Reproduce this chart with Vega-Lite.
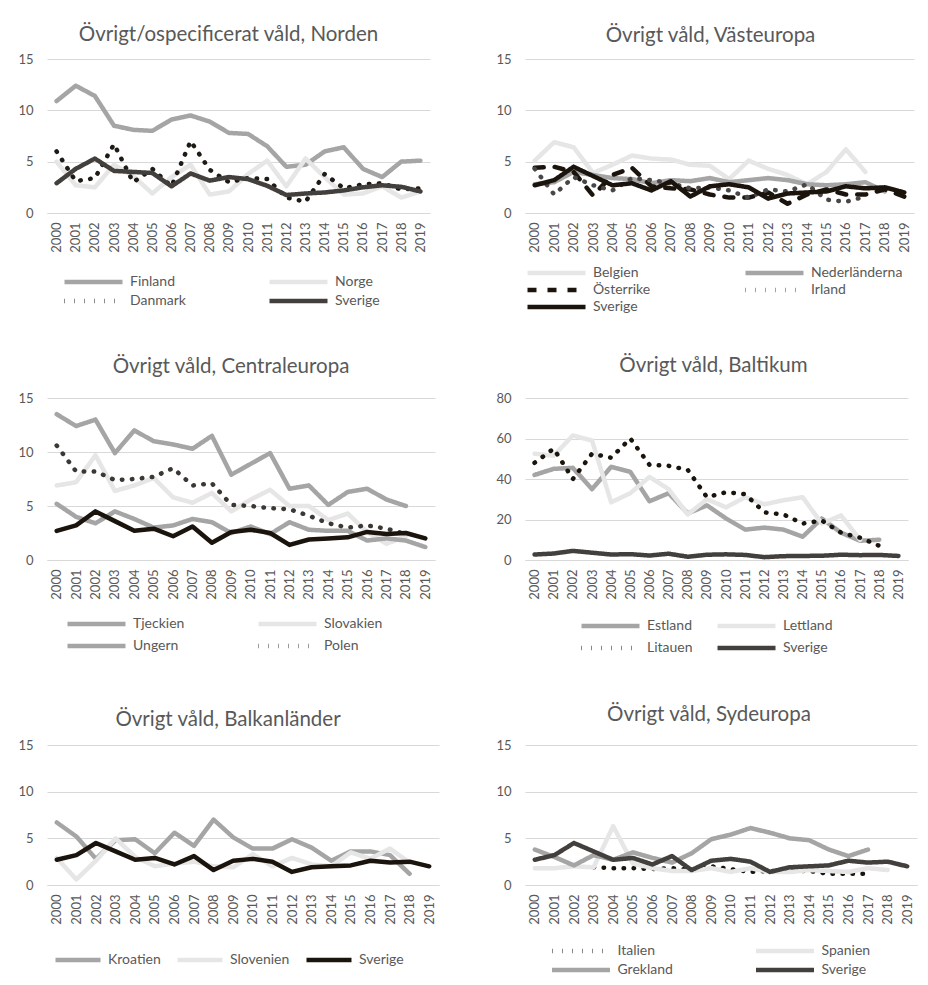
{
"$schema": "https://vega.github.io/schema/vega-lite/v6.json",
"background": "white",
"padding": {"left": 17, "top": 24, "right": 5, "bottom": 0},
"columns": 2,
"bounds": "flush",
"align": "each",
"spacing": {"row": 185, "column": 86},
"resolve": {"scale": {"color": "independent", "strokeDash": "independent"}, "legend": {"color": "independent", "strokeDash": "independent"}},
"config": {
  "font": "Lato",
  "view": {"stroke": null},
  "axis": {"labelColor": "#595959", "labelFontSize": 13, "gridColor": "#d9d9d9", "domainColor": "#d9d9d9", "ticks": false, "title": null},
  "axisY": {"domain": false, "labelPadding": 14, "minExtent": 30},
  "axisX": {"grid": false, "labelAngle": -90, "labelPadding": 9},
  "title": {"fontSize": 20.5, "fontWeight": "normal", "color": "#595959", "anchor": "middle"},
  "legend": {"orient": "none", "direction": "horizontal", "symbolType": "stroke", "symbolStrokeWidth": 4.5, "clipHeight": 17, "labelFontSize": 14, "labelColor": "#595959", "labelOffset": 5, "symbolSize": 3364, "title": null},
  "line": {"strokeWidth": 4.5, "strokeCap": "round", "strokeJoin": "round"}
},
"datasets": {
"nord": [
{"s":"Finland","t":"2000","v":10.9},{"s":"Finland","t":"2001","v":12.4},{"s":"Finland","t":"2002","v":11.4},{"s":"Finland","t":"2003","v":8.5},{"s":"Finland","t":"2004","v":8.1},{"s":"Finland","t":"2005","v":8.0},{"s":"Finland","t":"2006","v":9.1},{"s":"Finland","t":"2007","v":9.5},{"s":"Finland","t":"2008","v":8.9},{"s":"Finland","t":"2009","v":7.8},{"s":"Finland","t":"2010","v":7.7},{"s":"Finland","t":"2011","v":6.5},{"s":"Finland","t":"2012","v":4.5},{"s":"Finland","t":"2013","v":4.7},{"s":"Finland","t":"2014","v":6.0},{"s":"Finland","t":"2015","v":6.4},{"s":"Finland","t":"2016","v":4.3},{"s":"Finland","t":"2017","v":3.5},{"s":"Finland","t":"2018","v":5.0},{"s":"Finland","t":"2019","v":5.1},
{"s":"Norge","t":"2000","v":5.0},{"s":"Norge","t":"2001","v":2.7},{"s":"Norge","t":"2002","v":2.5},{"s":"Norge","t":"2003","v":4.7},{"s":"Norge","t":"2004","v":3.6},{"s":"Norge","t":"2005","v":1.9},{"s":"Norge","t":"2006","v":3.5},{"s":"Norge","t":"2007","v":4.7},{"s":"Norge","t":"2008","v":1.8},{"s":"Norge","t":"2009","v":2.1},{"s":"Norge","t":"2010","v":3.8},{"s":"Norge","t":"2011","v":5.1},{"s":"Norge","t":"2012","v":2.6},{"s":"Norge","t":"2013","v":5.3},{"s":"Norge","t":"2014","v":3.5},{"s":"Norge","t":"2015","v":1.8},{"s":"Norge","t":"2016","v":1.9},{"s":"Norge","t":"2017","v":2.6},{"s":"Norge","t":"2018","v":1.5},{"s":"Norge","t":"2019","v":2.1},
{"s":"Danmark","t":"2000","v":6.0},{"s":"Danmark","t":"2001","v":3.1},{"s":"Danmark","t":"2002","v":3.4},{"s":"Danmark","t":"2003","v":6.7},{"s":"Danmark","t":"2004","v":3.0},{"s":"Danmark","t":"2005","v":4.3},{"s":"Danmark","t":"2006","v":2.6},{"s":"Danmark","t":"2007","v":7.0},{"s":"Danmark","t":"2008","v":4.2},{"s":"Danmark","t":"2009","v":3.0},{"s":"Danmark","t":"2010","v":3.4},{"s":"Danmark","t":"2011","v":3.3},{"s":"Danmark","t":"2012","v":1.5},{"s":"Danmark","t":"2013","v":1.1},{"s":"Danmark","t":"2014","v":3.8},{"s":"Danmark","t":"2015","v":2.4},{"s":"Danmark","t":"2016","v":2.8},{"s":"Danmark","t":"2017","v":2.9},{"s":"Danmark","t":"2018","v":2.3},{"s":"Danmark","t":"2019","v":2.4},
{"s":"Sverige","t":"2000","v":2.9},{"s":"Sverige","t":"2001","v":4.3},{"s":"Sverige","t":"2002","v":5.3},{"s":"Sverige","t":"2003","v":4.1},{"s":"Sverige","t":"2004","v":4.0},{"s":"Sverige","t":"2005","v":3.9},{"s":"Sverige","t":"2006","v":2.6},{"s":"Sverige","t":"2007","v":3.85},{"s":"Sverige","t":"2008","v":3.15},{"s":"Sverige","t":"2009","v":3.5},{"s":"Sverige","t":"2010","v":3.3},{"s":"Sverige","t":"2011","v":2.65},{"s":"Sverige","t":"2012","v":1.75},{"s":"Sverige","t":"2013","v":1.9},{"s":"Sverige","t":"2014","v":2.0},{"s":"Sverige","t":"2015","v":2.2},{"s":"Sverige","t":"2016","v":2.5},{"s":"Sverige","t":"2017","v":2.7},{"s":"Sverige","t":"2018","v":2.55},{"s":"Sverige","t":"2019","v":2.1}
],
"vast": [
{"s":"Belgien","t":"2000","v":5.1},{"s":"Belgien","t":"2001","v":6.9},{"s":"Belgien","t":"2002","v":6.4},{"s":"Belgien","t":"2003","v":3.9},{"s":"Belgien","t":"2004","v":4.7},{"s":"Belgien","t":"2005","v":5.6},{"s":"Belgien","t":"2006","v":5.3},{"s":"Belgien","t":"2007","v":5.2},{"s":"Belgien","t":"2008","v":4.7},{"s":"Belgien","t":"2009","v":4.6},{"s":"Belgien","t":"2010","v":3.3},{"s":"Belgien","t":"2011","v":5.1},{"s":"Belgien","t":"2012","v":4.3},{"s":"Belgien","t":"2013","v":3.7},{"s":"Belgien","t":"2014","v":2.8},{"s":"Belgien","t":"2015","v":4.0},{"s":"Belgien","t":"2016","v":6.2},{"s":"Belgien","t":"2017","v":4.0},
{"s":"Nederländerna","t":"2000","v":2.8},{"s":"Nederländerna","t":"2001","v":3.0},{"s":"Nederländerna","t":"2002","v":4.0},{"s":"Nederländerna","t":"2003","v":3.7},{"s":"Nederländerna","t":"2004","v":3.4},{"s":"Nederländerna","t":"2005","v":3.3},{"s":"Nederländerna","t":"2006","v":2.9},{"s":"Nederländerna","t":"2007","v":3.2},{"s":"Nederländerna","t":"2008","v":3.1},{"s":"Nederländerna","t":"2009","v":3.4},{"s":"Nederländerna","t":"2010","v":3.0},{"s":"Nederländerna","t":"2011","v":3.2},{"s":"Nederländerna","t":"2012","v":3.4},{"s":"Nederländerna","t":"2013","v":3.2},{"s":"Nederländerna","t":"2014","v":2.8},{"s":"Nederländerna","t":"2015","v":2.7},{"s":"Nederländerna","t":"2016","v":2.8},{"s":"Nederländerna","t":"2017","v":3.0},{"s":"Nederländerna","t":"2018","v":2.1},
{"s":"Österrike","t":"2000","v":4.4},{"s":"Österrike","t":"2001","v":4.5},{"s":"Österrike","t":"2002","v":4.0},{"s":"Österrike","t":"2003","v":1.7},{"s":"Österrike","t":"2004","v":3.7},{"s":"Österrike","t":"2005","v":4.4},{"s":"Österrike","t":"2006","v":2.6},{"s":"Österrike","t":"2007","v":2.4},{"s":"Österrike","t":"2008","v":2.3},{"s":"Österrike","t":"2009","v":1.8},{"s":"Österrike","t":"2010","v":1.5},{"s":"Österrike","t":"2011","v":1.5},{"s":"Österrike","t":"2012","v":2.0},{"s":"Österrike","t":"2013","v":0.9},{"s":"Österrike","t":"2014","v":1.8},{"s":"Österrike","t":"2015","v":2.3},{"s":"Österrike","t":"2016","v":1.8},{"s":"Österrike","t":"2017","v":1.8},{"s":"Österrike","t":"2018","v":2.3},{"s":"Österrike","t":"2019","v":1.6},
{"s":"Irland","t":"2000","v":4.3},{"s":"Irland","t":"2001","v":1.8},{"s":"Irland","t":"2002","v":3.5},{"s":"Irland","t":"2003","v":2.7},{"s":"Irland","t":"2004","v":2.2},{"s":"Irland","t":"2005","v":3.4},{"s":"Irland","t":"2006","v":3.2},{"s":"Irland","t":"2007","v":2.9},{"s":"Irland","t":"2008","v":2.4},{"s":"Irland","t":"2009","v":2.5},{"s":"Irland","t":"2010","v":2.2},{"s":"Irland","t":"2011","v":1.5},{"s":"Irland","t":"2012","v":2.3},{"s":"Irland","t":"2013","v":2.1},{"s":"Irland","t":"2014","v":2.8},{"s":"Irland","t":"2015","v":1.3},{"s":"Irland","t":"2016","v":1.1},{"s":"Irland","t":"2017","v":1.6}
],
"cent": [
{"s":"Tjeckien","t":"2000","v":13.5},{"s":"Tjeckien","t":"2001","v":12.4},{"s":"Tjeckien","t":"2002","v":13.0},{"s":"Tjeckien","t":"2003","v":9.9},{"s":"Tjeckien","t":"2004","v":12.0},{"s":"Tjeckien","t":"2005","v":11.0},{"s":"Tjeckien","t":"2006","v":10.7},{"s":"Tjeckien","t":"2007","v":10.3},{"s":"Tjeckien","t":"2008","v":11.5},{"s":"Tjeckien","t":"2009","v":7.9},{"s":"Tjeckien","t":"2010","v":8.9},{"s":"Tjeckien","t":"2011","v":9.9},{"s":"Tjeckien","t":"2012","v":6.6},{"s":"Tjeckien","t":"2013","v":6.9},{"s":"Tjeckien","t":"2014","v":5.1},{"s":"Tjeckien","t":"2015","v":6.3},{"s":"Tjeckien","t":"2016","v":6.6},{"s":"Tjeckien","t":"2017","v":5.6},{"s":"Tjeckien","t":"2018","v":5.0},
{"s":"Slovakien","t":"2000","v":6.9},{"s":"Slovakien","t":"2001","v":7.2},{"s":"Slovakien","t":"2002","v":9.7},{"s":"Slovakien","t":"2003","v":6.4},{"s":"Slovakien","t":"2004","v":6.9},{"s":"Slovakien","t":"2005","v":7.6},{"s":"Slovakien","t":"2006","v":5.8},{"s":"Slovakien","t":"2007","v":5.3},{"s":"Slovakien","t":"2008","v":6.2},{"s":"Slovakien","t":"2009","v":4.5},{"s":"Slovakien","t":"2010","v":5.6},{"s":"Slovakien","t":"2011","v":6.5},{"s":"Slovakien","t":"2012","v":5.0},{"s":"Slovakien","t":"2013","v":5.0},{"s":"Slovakien","t":"2014","v":3.7},{"s":"Slovakien","t":"2015","v":4.3},{"s":"Slovakien","t":"2016","v":2.6},{"s":"Slovakien","t":"2017","v":1.5},{"s":"Slovakien","t":"2018","v":2.2},
{"s":"Ungern","t":"2000","v":5.2},{"s":"Ungern","t":"2001","v":4.0},{"s":"Ungern","t":"2002","v":3.4},{"s":"Ungern","t":"2003","v":4.5},{"s":"Ungern","t":"2004","v":3.8},{"s":"Ungern","t":"2005","v":3.0},{"s":"Ungern","t":"2006","v":3.2},{"s":"Ungern","t":"2007","v":3.8},{"s":"Ungern","t":"2008","v":3.5},{"s":"Ungern","t":"2009","v":2.5},{"s":"Ungern","t":"2010","v":3.1},{"s":"Ungern","t":"2011","v":2.4},{"s":"Ungern","t":"2012","v":3.5},{"s":"Ungern","t":"2013","v":2.8},{"s":"Ungern","t":"2014","v":2.7},{"s":"Ungern","t":"2015","v":2.7},{"s":"Ungern","t":"2016","v":1.8},{"s":"Ungern","t":"2017","v":2.0},{"s":"Ungern","t":"2018","v":1.8},{"s":"Ungern","t":"2019","v":1.2},
{"s":"Polen","t":"2000","v":10.6},{"s":"Polen","t":"2001","v":8.2},{"s":"Polen","t":"2002","v":8.2},{"s":"Polen","t":"2003","v":7.4},{"s":"Polen","t":"2004","v":7.5},{"s":"Polen","t":"2005","v":7.7},{"s":"Polen","t":"2006","v":8.5},{"s":"Polen","t":"2007","v":6.9},{"s":"Polen","t":"2008","v":7.1},{"s":"Polen","t":"2009","v":5.1},{"s":"Polen","t":"2010","v":5.0},{"s":"Polen","t":"2011","v":4.8},{"s":"Polen","t":"2012","v":4.7},{"s":"Polen","t":"2013","v":4.1},{"s":"Polen","t":"2014","v":3.4},{"s":"Polen","t":"2015","v":3.0},{"s":"Polen","t":"2016","v":3.2},{"s":"Polen","t":"2017","v":2.9},{"s":"Polen","t":"2018","v":2.4}
],
"balt": [
{"s":"Estland","t":"2000","v":42},{"s":"Estland","t":"2001","v":45},{"s":"Estland","t":"2002","v":45.5},{"s":"Estland","t":"2003","v":35},{"s":"Estland","t":"2004","v":46},{"s":"Estland","t":"2005","v":43.5},{"s":"Estland","t":"2006","v":29},{"s":"Estland","t":"2007","v":33},{"s":"Estland","t":"2008","v":23},{"s":"Estland","t":"2009","v":27},{"s":"Estland","t":"2010","v":20.5},{"s":"Estland","t":"2011","v":15},{"s":"Estland","t":"2012","v":16},{"s":"Estland","t":"2013","v":15},{"s":"Estland","t":"2014","v":11.5},{"s":"Estland","t":"2015","v":20.5},{"s":"Estland","t":"2016","v":13.5},{"s":"Estland","t":"2017","v":9.5},{"s":"Estland","t":"2018","v":10},
{"s":"Lettland","t":"2000","v":52.5},{"s":"Lettland","t":"2001","v":51.5},{"s":"Lettland","t":"2002","v":61.5},{"s":"Lettland","t":"2003","v":59},{"s":"Lettland","t":"2004","v":28.5},{"s":"Lettland","t":"2005","v":33},{"s":"Lettland","t":"2006","v":41},{"s":"Lettland","t":"2007","v":35},{"s":"Lettland","t":"2008","v":22.5},{"s":"Lettland","t":"2009","v":30},{"s":"Lettland","t":"2010","v":26},{"s":"Lettland","t":"2011","v":31},{"s":"Lettland","t":"2012","v":27.5},{"s":"Lettland","t":"2013","v":29.5},{"s":"Lettland","t":"2014","v":31},{"s":"Lettland","t":"2015","v":18},{"s":"Lettland","t":"2016","v":22},{"s":"Lettland","t":"2017","v":10},
{"s":"Litauen","t":"2000","v":48},{"s":"Litauen","t":"2001","v":55},{"s":"Litauen","t":"2002","v":40},{"s":"Litauen","t":"2003","v":52.5},{"s":"Litauen","t":"2004","v":50.5},{"s":"Litauen","t":"2005","v":60},{"s":"Litauen","t":"2006","v":47},{"s":"Litauen","t":"2007","v":46.5},{"s":"Litauen","t":"2008","v":44.5},{"s":"Litauen","t":"2009","v":31},{"s":"Litauen","t":"2010","v":33.5},{"s":"Litauen","t":"2011","v":32.5},{"s":"Litauen","t":"2012","v":23.5},{"s":"Litauen","t":"2013","v":22.5},{"s":"Litauen","t":"2014","v":18},{"s":"Litauen","t":"2015","v":19.5},{"s":"Litauen","t":"2016","v":13.5},{"s":"Litauen","t":"2017","v":11},{"s":"Litauen","t":"2018","v":7}
],
"balk": [
{"s":"Kroatien","t":"2000","v":6.7},{"s":"Kroatien","t":"2001","v":5.2},{"s":"Kroatien","t":"2002","v":2.8},{"s":"Kroatien","t":"2003","v":4.8},{"s":"Kroatien","t":"2004","v":4.9},{"s":"Kroatien","t":"2005","v":3.4},{"s":"Kroatien","t":"2006","v":5.6},{"s":"Kroatien","t":"2007","v":4.2},{"s":"Kroatien","t":"2008","v":7.0},{"s":"Kroatien","t":"2009","v":5.1},{"s":"Kroatien","t":"2010","v":3.9},{"s":"Kroatien","t":"2011","v":3.9},{"s":"Kroatien","t":"2012","v":4.9},{"s":"Kroatien","t":"2013","v":4.0},{"s":"Kroatien","t":"2014","v":2.6},{"s":"Kroatien","t":"2015","v":3.6},{"s":"Kroatien","t":"2016","v":3.6},{"s":"Kroatien","t":"2017","v":3.2},{"s":"Kroatien","t":"2018","v":1.2},
{"s":"Slovenien","t":"2000","v":2.9},{"s":"Slovenien","t":"2001","v":0.6},{"s":"Slovenien","t":"2002","v":2.6},{"s":"Slovenien","t":"2003","v":5.0},{"s":"Slovenien","t":"2004","v":3.0},{"s":"Slovenien","t":"2005","v":2.0},{"s":"Slovenien","t":"2006","v":2.3},{"s":"Slovenien","t":"2007","v":2.5},{"s":"Slovenien","t":"2008","v":2.0},{"s":"Slovenien","t":"2009","v":1.9},{"s":"Slovenien","t":"2010","v":3.3},{"s":"Slovenien","t":"2011","v":2.0},{"s":"Slovenien","t":"2012","v":2.9},{"s":"Slovenien","t":"2013","v":2.2},{"s":"Slovenien","t":"2014","v":2.0},{"s":"Slovenien","t":"2015","v":3.5},{"s":"Slovenien","t":"2016","v":2.8},{"s":"Slovenien","t":"2017","v":3.9},{"s":"Slovenien","t":"2018","v":2.4}
],
"syd": [
{"s":"Italien","t":"2003","v":1.9},{"s":"Italien","t":"2004","v":1.8},{"s":"Italien","t":"2005","v":1.8},{"s":"Italien","t":"2006","v":1.7},{"s":"Italien","t":"2007","v":1.8},{"s":"Italien","t":"2008","v":1.6},{"s":"Italien","t":"2009","v":2.0},{"s":"Italien","t":"2010","v":1.7},{"s":"Italien","t":"2011","v":1.4},{"s":"Italien","t":"2012","v":1.5},{"s":"Italien","t":"2013","v":1.5},{"s":"Italien","t":"2014","v":1.5},{"s":"Italien","t":"2015","v":1.2},{"s":"Italien","t":"2016","v":1.2},{"s":"Italien","t":"2017","v":1.2},
{"s":"Spanien","t":"2000","v":1.8},{"s":"Spanien","t":"2001","v":1.8},{"s":"Spanien","t":"2002","v":2.0},{"s":"Spanien","t":"2003","v":1.9},{"s":"Spanien","t":"2004","v":6.3},{"s":"Spanien","t":"2005","v":2.3},{"s":"Spanien","t":"2006","v":1.8},{"s":"Spanien","t":"2007","v":1.5},{"s":"Spanien","t":"2008","v":1.5},{"s":"Spanien","t":"2009","v":1.8},{"s":"Spanien","t":"2010","v":1.4},{"s":"Spanien","t":"2011","v":1.8},{"s":"Spanien","t":"2012","v":1.4},{"s":"Spanien","t":"2013","v":1.4},{"s":"Spanien","t":"2014","v":1.6},{"s":"Spanien","t":"2015","v":1.5},{"s":"Spanien","t":"2016","v":1.4},{"s":"Spanien","t":"2017","v":1.8},{"s":"Spanien","t":"2018","v":1.6},
{"s":"Grekland","t":"2000","v":3.8},{"s":"Grekland","t":"2001","v":3.0},{"s":"Grekland","t":"2002","v":2.1},{"s":"Grekland","t":"2003","v":3.2},{"s":"Grekland","t":"2004","v":2.7},{"s":"Grekland","t":"2005","v":3.5},{"s":"Grekland","t":"2006","v":2.9},{"s":"Grekland","t":"2007","v":2.4},{"s":"Grekland","t":"2008","v":3.4},{"s":"Grekland","t":"2009","v":4.9},{"s":"Grekland","t":"2010","v":5.4},{"s":"Grekland","t":"2011","v":6.1},{"s":"Grekland","t":"2012","v":5.6},{"s":"Grekland","t":"2013","v":5.0},{"s":"Grekland","t":"2014","v":4.8},{"s":"Grekland","t":"2015","v":3.8},{"s":"Grekland","t":"2016","v":3.1},{"s":"Grekland","t":"2017","v":3.8}
],
"sve": [
{"s":"Sverige","t":"2000","v":2.7},{"s":"Sverige","t":"2001","v":3.2},{"s":"Sverige","t":"2002","v":4.5},{"s":"Sverige","t":"2003","v":3.6},{"s":"Sverige","t":"2004","v":2.7},{"s":"Sverige","t":"2005","v":2.9},{"s":"Sverige","t":"2006","v":2.2},{"s":"Sverige","t":"2007","v":3.1},{"s":"Sverige","t":"2008","v":1.6},{"s":"Sverige","t":"2009","v":2.6},{"s":"Sverige","t":"2010","v":2.8},{"s":"Sverige","t":"2011","v":2.5},{"s":"Sverige","t":"2012","v":1.4},{"s":"Sverige","t":"2013","v":1.9},{"s":"Sverige","t":"2014","v":2.0},{"s":"Sverige","t":"2015","v":2.1},{"s":"Sverige","t":"2016","v":2.6},{"s":"Sverige","t":"2017","v":2.4},{"s":"Sverige","t":"2018","v":2.5},{"s":"Sverige","t":"2019","v":2.0}
]
},
"concat": [
 {"title": {"text": "Övrigt/ospecificerat våld, Norden", "offset": 8, "dx": -10},
  "width": 383, "height": 154,
  "data": {"name": "nord"},
  "mark": {"type": "line"},
  "encoding": {
   "x": {"field": "t", "type": "ordinal"},
   "y": {"field": "v", "type": "quantitative", "scale": {"domain": [0, 15], "nice": false}, "axis": {"values": [0, 5, 10, 15]}},
   "color": {"field": "s", "type": "nominal", "scale": {"domain": ["Finland", "Norge", "Danmark", "Sverige"], "range": ["#a5a5a5", "#e7e6e6", "#1e1a16", "#433f3c"]}, "legend": {"legendX": 15, "legendY": 214.5, "columns": 2, "columnPadding": 81, "rowPadding": 2, "encode": {"symbols": {"strokeDash": {"condition": {"test": "datum.value === 'Danmark'", "value": [4.5, 5.5]}, "value": [1, 0]}}}}},
   "strokeDash": {"field": "s", "type": "nominal", "scale": {"domain": ["Finland", "Norge", "Danmark", "Sverige"], "range": [[1, 0], [1, 0], [0.5, 9.5], [1, 0]]}, "legend": null}
  }
 },
 {"title": {"text": "Övrigt våld, Västeuropa", "offset": 7, "dx": -9},
  "width": 389, "height": 154,
  "layer": [
   {"data": {"name": "vast"}, "mark": {"type": "line"},
    "encoding": {
     "x": {"field": "t", "type": "ordinal"},
     "y": {"field": "v", "type": "quantitative", "scale": {"domain": [0, 15], "nice": false}, "axis": {"values": [0, 5, 10, 15]}},
     "color": {"field": "s", "type": "nominal", "scale": {"domain": ["Belgien", "Nederländerna", "Österrike", "Irland", "Sverige"], "range": ["#e7e6e6", "#a5a5a5", "#1b140d", "#4a4645", "#1b140d"]}, "legend": {"legendX": 0, "legendY": 205.5, "columns": 2, "columnPadding": 92, "rowPadding": 0, "encode": {"symbols": {"strokeDash": {"condition": [{"test": "datum.value === 'Österrike'", "value": [15, 6]}, {"test": "datum.value === 'Irland'", "value": [4.5, 5.5]}], "value": [1, 0]}}}}},
     "strokeDash": {"field": "s", "type": "nominal", "scale": {"domain": ["Belgien", "Nederländerna", "Österrike", "Irland", "Sverige"], "range": [[1, 0], [1, 0], [9, 11], [0.5, 9.5], [1, 0]]}, "legend": null}
    }},
   {"data": {"name": "sve"}, "mark": {"type": "line"},
    "encoding": {
     "x": {"field": "t", "type": "ordinal"},
     "y": {"field": "v", "type": "quantitative", "scale": {"domain": [0, 15], "nice": false}},
     "color": {"field": "s", "type": "nominal"},
     "strokeDash": {"field": "s", "type": "nominal", "legend": null}
    }}
  ]
 },
 {"title": {"text": "Övrigt våld, Centraleuropa", "offset": 15, "dx": -10},
  "width": 388, "height": 162,
  "layer": [
   {"data": {"name": "cent"}, "mark": {"type": "line"},
    "encoding": {
     "x": {"field": "t", "type": "ordinal"},
     "y": {"field": "v", "type": "quantitative", "scale": {"domain": [0, 15], "nice": false}, "axis": {"values": [0, 5, 10, 15]}},
     "color": {"field": "s", "type": "nominal", "scale": {"domain": ["Tjeckien", "Slovakien", "Ungern", "Polen"], "range": ["#a5a5a5", "#e7e6e6", "#a5a5a5", "#3b3733"]}, "legend": {"legendX": 18, "legendY": 217.5, "columns": 2, "columnPadding": 71, "rowPadding": 5, "encode": {"symbols": {"strokeDash": {"condition": {"test": "datum.value === 'Polen'", "value": [4.5, 5.5]}, "value": [1, 0]}}}}},
     "strokeDash": {"field": "s", "type": "nominal", "scale": {"domain": ["Tjeckien", "Slovakien", "Ungern", "Polen"], "range": [[1, 0], [1, 0], [1, 0], [0.5, 9.5]]}, "legend": null}
    }},
   {"data": {"name": "sve"}, "mark": {"type": "line", "color": "#1b140d"},
    "encoding": {
     "x": {"field": "t", "type": "ordinal"},
     "y": {"field": "v", "type": "quantitative", "scale": {"domain": [0, 15], "nice": false}}
    }}
  ]
 },
 {"title": {"text": "Övrigt våld, Baltikum", "offset": 16, "dx": -3},
  "width": 383, "height": 162,
  "layer": [
   {"data": {"name": "balt"}, "mark": {"type": "line"},
    "encoding": {
     "x": {"field": "t", "type": "ordinal"},
     "y": {"field": "v", "type": "quantitative", "scale": {"domain": [0, 80], "nice": false}, "axis": {"values": [0, 20, 40, 60, 80]}},
     "color": {"field": "s", "type": "nominal", "scale": {"domain": ["Estland", "Lettland", "Litauen", "Sverige"], "range": ["#a5a5a5", "#e7e6e6", "#1b140d", "#433f3c"]}, "legend": {"legendX": 54, "legendY": 219.5, "columns": 2, "columnPadding": 22, "rowPadding": 5, "encode": {"symbols": {"strokeDash": {"condition": {"test": "datum.value === 'Litauen'", "value": [4.5, 5.5]}, "value": [1, 0]}}}}},
     "strokeDash": {"field": "s", "type": "nominal", "scale": {"domain": ["Estland", "Lettland", "Litauen", "Sverige"], "range": [[1, 0], [1, 0], [0.5, 9.5], [1, 0]]}, "legend": null}
    }},
   {"data": {"name": "sve"}, "mark": {"type": "line"},
    "encoding": {
     "x": {"field": "t", "type": "ordinal"},
     "y": {"field": "v", "type": "quantitative", "scale": {"domain": [0, 80], "nice": false}},
     "color": {"field": "s", "type": "nominal"},
     "strokeDash": {"field": "s", "type": "nominal", "legend": null}
    }}
  ]
 },
 {"title": {"text": "Övrigt våld, Balkanländer", "offset": 9, "dx": -15},
  "width": 392, "height": 140,
  "layer": [
   {"data": {"name": "balk"}, "mark": {"type": "line"},
    "encoding": {
     "x": {"field": "t", "type": "ordinal"},
     "y": {"field": "v", "type": "quantitative", "scale": {"domain": [0, 15], "nice": false}, "axis": {"values": [0, 5, 10, 15]}},
     "color": {"field": "s", "type": "nominal", "scale": {"domain": ["Kroatien", "Slovenien", "Sverige"], "range": ["#a5a5a5", "#e7e6e6", "#1b140d"]}, "legend": {"legendX": 6, "legendY": 206.5, "columns": 3, "columnPadding": 14, "symbolSize": 2025}}
    }},
   {"data": {"name": "sve"}, "mark": {"type": "line"},
    "encoding": {
     "x": {"field": "t", "type": "ordinal"},
     "y": {"field": "v", "type": "quantitative", "scale": {"domain": [0, 15], "nice": false}},
     "color": {"field": "s", "type": "nominal"}
    }}
  ]
 },
 {"title": {"text": "Övrigt våld, Sydeuropa", "offset": 14, "dx": -12},
  "width": 392, "height": 140,
  "layer": [
   {"data": {"name": "syd"}, "mark": {"type": "line"},
    "encoding": {
     "x": {"field": "t", "type": "ordinal"},
     "y": {"field": "v", "type": "quantitative", "scale": {"domain": [0, 15], "nice": false}, "axis": {"values": [0, 5, 10, 15]}},
     "color": {"field": "s", "type": "nominal", "scale": {"domain": ["Italien", "Spanien", "Grekland", "Sverige"], "range": ["#1b140d", "#e7e6e6", "#a5a5a5", "#433f3c"]}, "legend": {"legendX": 24.5, "legendY": 197.5, "columns": 2, "columnPadding": 80, "rowPadding": 2, "encode": {"symbols": {"strokeDash": {"condition": {"test": "datum.value === 'Italien'", "value": [4.5, 5.5]}, "value": [1, 0]}}}}},
     "strokeDash": {"field": "s", "type": "nominal", "scale": {"domain": ["Italien", "Spanien", "Grekland", "Sverige"], "range": [[0.5, 9.5], [1, 0], [1, 0], [1, 0]]}, "legend": null}
    }},
   {"data": {"name": "sve"}, "mark": {"type": "line"},
    "encoding": {
     "x": {"field": "t", "type": "ordinal"},
     "y": {"field": "v", "type": "quantitative", "scale": {"domain": [0, 15], "nice": false}},
     "color": {"field": "s", "type": "nominal"},
     "strokeDash": {"field": "s", "type": "nominal", "legend": null}
    }}
  ]
 }
]
}
